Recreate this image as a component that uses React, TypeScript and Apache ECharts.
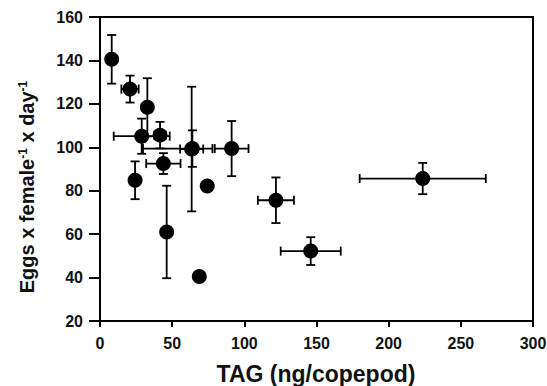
import React, { useEffect, useRef } from "react";
import * as echarts from "echarts";

// TAG (ng/copepod) and eggs per female per day
const tag = [8.1, 20.8, 32.8, 28.9, 41.6, 64.0, 63.5, 91.2, 43.9, 24.3, 46.2, 68.8, 74.3, 121.9, 146.0, 223.6];
const eggs = [140.5, 126.8, 118.4, 105.1, 105.6, 99.4, 99.2, 99.4, 92.5, 84.8, 61.0, 40.5, 82.2, 75.6, 52.2, 85.6];
// error bars (data units)
const tagErrMinus = [0, 6, 0, 19.4, 4, 34.2, 8, 11.7, 11.9, 0, 0, 0, 0, 12.5, 20.8, 43.7];
const tagErrPlus = [0, 6, 0, 19.4, 4, 13.9, 8, 11.7, 11.9, 0, 0, 0, 0, 12.5, 20.8, 43.7];
const eggsErr = [11.2, 6.2, 13.4, 8.1, 6.1, 8.4, 28.7, 12.7, 4.8, 8.7, 21.3, 0, 0, 10.5, 6.4, 7.2];

const xTicks = [0, 50, 100, 150, 200, 250, 300];
const yTicks = [20, 40, 60, 80, 100, 120, 140, 160];

const FONT = "'Liberation Sans', Arial, sans-serif";

export default function App() {
  const ref = useRef<HTMLDivElement>(null);
  useEffect(() => {
    if (!ref.current) return;
    const chart = echarts.init(ref.current, null, { renderer: "svg" });
    const pts = tag.map((x, i) => [x, eggs[i]]);
    const errData = tag.map((x, i) => [x, eggs[i], tagErrMinus[i], tagErrPlus[i], eggsErr[i]]);
    const lineStyle = { stroke: "#000", lineWidth: 1.8 };
    const cap = 4.5;
    chart.setOption({
      animation: false,
      backgroundColor: "#fff",
      grid: {
        left: 100,
        right: 14,
        top: 17,
        bottom: 65,
        show: true,
        borderColor: "#000",
        borderWidth: 2,
        containLabel: false,
        outerBoundsMode: "none",
      },
      xAxis: {
        type: "value",
        min: xTicks[0],
        max: xTicks[xTicks.length - 1],
        interval: 50,
        axisLine: { show: true, onZero: false, lineStyle: { color: "#000", width: 2 } },
        axisTick: { show: true, inside: false, length: 6, lineStyle: { color: "#000", width: 2 } },
        splitLine: { show: false },
        axisLabel: {
          color: "#111",
          fontSize: 16,
          fontWeight: "bold",
          fontFamily: FONT,
          margin: 14,
          showMinLabel: true,
          showMaxLabel: true,
        },
      },
      yAxis: {
        type: "value",
        min: yTicks[0],
        max: yTicks[yTicks.length - 1],
        interval: 20,
        axisLine: { show: true, onZero: false, lineStyle: { color: "#000", width: 2 } },
        axisTick: { show: true, inside: false, length: 11, lineStyle: { color: "#000", width: 2 } },
        splitLine: { show: false },
        axisLabel: {
          color: "#111",
          fontSize: 16,
          fontWeight: "bold",
          fontFamily: FONT,
          margin: 17,
          showMinLabel: true,
          showMaxLabel: true,
        },
      },
      graphic: [
        {
          type: "text",
          x: 27,
          y: 187,
          rotation: Math.PI / 2,
          style: {
            text: "Eggs x female{sup|-1} x day{sup|-1}",
            fontSize: 20,
            fontWeight: "bold",
            fontFamily: FONT,
            fill: "#111",
            align: "center",
            verticalAlign: "middle",
            rich: {
              sup: {
                fontSize: 12,
                fontWeight: "bold",
                fontFamily: FONT,
                fill: "#111",
                verticalAlign: "top",
                padding: [0, 0, 9, 0],
              },
            },
          },
        },
        {
          type: "text",
          x: 316,
          y: 374,
          style: {
            text: "TAG (ng/copepod)",
            fontSize: 23,
            fontWeight: "bold",
            fontFamily: FONT,
            fill: "#111",
            align: "center",
            verticalAlign: "middle",
          },
        },
      ],
      series: [
        {
          type: "custom",
          data: errData,
          encode: { x: 0, y: 1 },
          clip: false,
          z: 2,
          renderItem: (params: any, api: any) => {
            const x = api.value(0);
            const y = api.value(1);
            const xm = api.value(2);
            const xp = api.value(3);
            const ye = api.value(4);
            const children: any[] = [];
            if (ye > 0) {
              const t = api.coord([x, y + ye]);
              const b = api.coord([x, y - ye]);
              children.push({ type: "line", shape: { x1: t[0], y1: t[1], x2: b[0], y2: b[1] }, style: lineStyle });
              children.push({ type: "line", shape: { x1: t[0] - cap, y1: t[1], x2: t[0] + cap, y2: t[1] }, style: lineStyle });
              children.push({ type: "line", shape: { x1: b[0] - cap, y1: b[1], x2: b[0] + cap, y2: b[1] }, style: lineStyle });
            }
            if (xm > 0 || xp > 0) {
              const l = api.coord([x - xm, y]);
              const r = api.coord([x + xp, y]);
              children.push({ type: "line", shape: { x1: l[0], y1: l[1], x2: r[0], y2: r[1] }, style: lineStyle });
              children.push({ type: "line", shape: { x1: l[0], y1: l[1] - cap, x2: l[0], y2: l[1] + cap }, style: lineStyle });
              children.push({ type: "line", shape: { x1: r[0], y1: r[1] - cap, x2: r[0], y2: r[1] + cap }, style: lineStyle });
            }
            return { type: "group", children };
          },
        },
        {
          type: "scatter",
          data: pts,
          symbol: "circle",
          symbolSize: 15,
          z: 3,
          itemStyle: { color: "#000", opacity: 1 },
        },
      ],
    });
    return () => chart.dispose();
  }, []);
  return <div ref={ref} style={{ width: 547, height: 386, position: "absolute", left: 0, top: 0 }} />;
}
